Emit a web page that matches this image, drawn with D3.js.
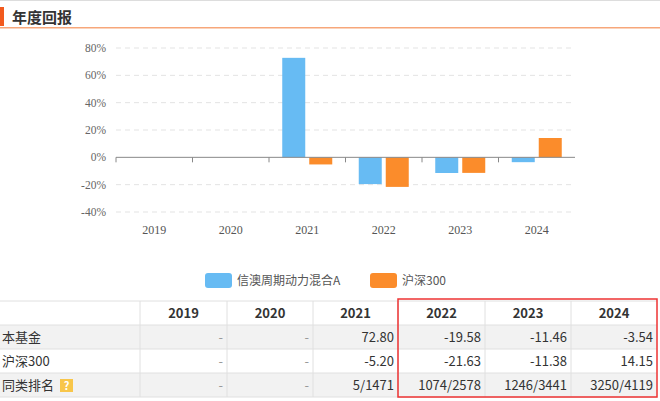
<!DOCTYPE html><html><head><meta charset="utf-8"><script src="https://cdn.jsdelivr.net/npm/d3@7"></script>
<style>body{margin:0;background:#fff;font-family:"Noto Sans CJK SC","Open Sans",sans-serif}</style></head><body><svg id="c" width="660" height="401"></svg><script>
const years=["2019","2020","2021","2022","2023","2024"];
const fund=[null,null,72.80,-19.58,-11.46,-3.54];
const hs300=[null,null,-5.20,-21.63,-11.38,14.15];
const rank=["-","-","5/1471","1074/2578","1246/3441","3250/4119"];
const yTicks=[-40,-20,0,20,40,60,80];
const seriesNames=["信澳周期动力混合A","沪深300"];
const colors=["#67bbf3","#fb8c2b"];
const svg=d3.select("#c");
svg.append("rect").attr("x",0).attr("y",0).attr("width",660).attr("height",1).attr("fill","#ddd");
svg.append("rect").attr("x",0).attr("y",7).attr("width",4).attr("height",19).attr("fill","#f25a1e");
svg.append("text").attr("x",12).attr("y",23).text("年度回报").attr("font-size",15).attr("font-weight","bold").attr("fill","#333");
svg.append("rect").attr("x",0).attr("y",27).attr("width",660).attr("height",1.5).attr("fill","#f7a77a");
const x=d3.scaleBand().domain(years).range([116,575]);
const y=d3.scaleLinear().domain([-40,80]).range([212,48]);
const g=svg.append("g");
yTicks.forEach(t=>{
 if(t!==0)g.append("line").attr("x1",116).attr("x2",575).attr("y1",y(t)).attr("y2",y(t)).attr("stroke","#e3e3e3").attr("stroke-dasharray","5,4");
 g.append("text").attr("x",106).attr("y",y(t)+4).attr("text-anchor","end").attr("font-size",11.5).attr("fill","#666").attr("font-family","'Liberation Serif',serif").text(t+"%");
});
const bw=23;
[fund,hs300].forEach((s,i)=>{
 g.selectAll(null).data(years.map((yr,j)=>({yr,v:s[j]})).filter(d=>d.v!==null)).enter().append("rect")
  .attr("x",d=>x(d.yr)+x.bandwidth()/2-bw-2+i*(bw+4)).attr("width",bw)
  .attr("y",d=>y(Math.max(0,d.v))).attr("height",d=>Math.abs(y(d.v)-y(0))).attr("fill",colors[i]);
});
g.append("line").attr("x1",116).attr("x2",575).attr("y1",y(0)).attr("y2",y(0)).attr("stroke","#888");
years.forEach(yr=>{
 g.append("line").attr("x1",x(yr)).attr("x2",x(yr)).attr("y1",y(0)).attr("y2",y(0)+5).attr("stroke","#888");
 g.append("text").attr("x",x(yr)+x.bandwidth()/2).attr("y",234).attr("text-anchor","middle").attr("font-size",12).attr("fill","#555").attr("font-family","'Liberation Serif',serif").text(yr);
});
const lg=[[205,237],[370,402]];
seriesNames.forEach((n,i)=>{
 svg.append("rect").attr("x",lg[i][0]).attr("y",273).attr("width",27).attr("height",15).attr("rx",3).attr("fill",colors[i]);
 svg.append("text").attr("x",lg[i][1]).attr("y",285).attr("font-size",12).attr("fill","#555").text(n);
});
// table
const cols=[0,140,227,313,398,485,571,657];
const rowsY=[301,325,349,373,397];
const bgs=["#fff","#f2f2f2","#fff","#f2f2f2"];
bgs.forEach((b,r)=>svg.append("rect").attr("x",0).attr("y",rowsY[r]).attr("width",657).attr("height",24).attr("fill",b));
rowsY.forEach(yy=>svg.append("line").attr("x1",0).attr("x2",657).attr("y1",yy).attr("y2",yy).attr("stroke","#e0e0e0"));
cols.slice(1,-1).forEach(xx=>svg.append("line").attr("x1",xx).attr("x2",xx).attr("y1",301).attr("y2",397).attr("stroke","#e0e0e0"));
years.forEach((yr,j)=>svg.append("text").attr("x",(cols[j+1]+cols[j+2])/2).attr("y",318).attr("text-anchor","middle").attr("font-size",13).attr("font-weight","bold").attr("fill","#333").text(yr));
const labels=["本基金","沪深300","同类排名"];
const fmt=v=>v===null?"-":v.toFixed(2);
const rowsData=[fund.map(fmt),hs300.map(fmt),rank];
labels.forEach((l,r)=>{
 svg.append("text").attr("x",2).attr("y",rowsY[r+1]+17).attr("font-size",13).attr("fill","#333").text(l);
 rowsData[r].forEach((v,j)=>svg.append("text").attr("x",cols[j+2]-4).attr("y",rowsY[r+1]+17).attr("text-anchor","end").attr("font-size",13).attr("fill",v==="-"?"#999":"#333").text(v));
});
svg.append("rect").attr("x",60).attr("y",379).attr("width",13).attr("height",13).attr("fill","#f8c64a");
svg.append("text").attr("x",66.5).attr("y",390).attr("text-anchor","middle").attr("font-size",11).attr("font-weight","bold").attr("fill","#fff").text("?");
svg.append("rect").attr("x",398).attr("y",299).attr("width",259).attr("height",98).attr("fill","none").attr("stroke","#e33").attr("stroke-width",1.5);
</script></body></html>
